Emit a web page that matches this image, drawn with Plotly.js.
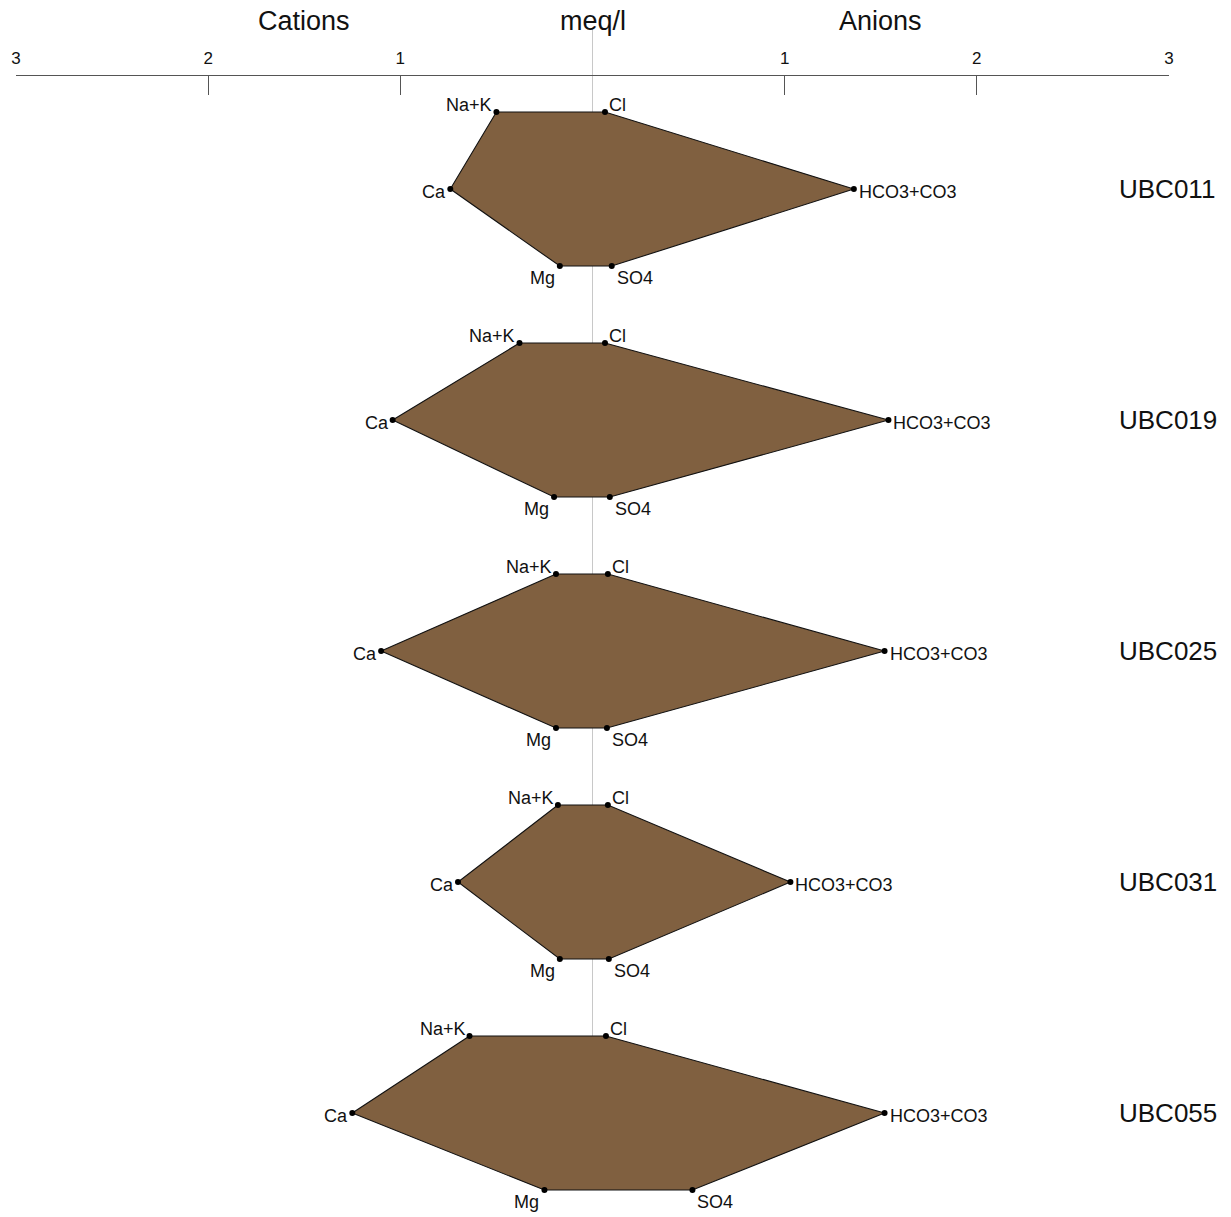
<!DOCTYPE html>
<html>
<head>
<meta charset="utf-8">
<script src="https://cdn.plot.ly/plotly-3.0.1.min.js"></script>
<style>
  html, body { margin: 0; padding: 0; background: #ffffff; }
  #chart { width: 1231px; height: 1217px; }
</style>
</head>
<body>
<div id="chart"></div>
<script>
// Stiff diagram: ion concentrations in meq/l per sample
const samples = ['UBC011', 'UBC019', 'UBC025', 'UBC031', 'UBC055'];

// Cations (plotted to the left)
const naK = [0.50, 0.38, 0.19, 0.18, 0.64];
const ca  = [0.74, 1.04, 1.10, 0.70, 1.25];
const mg  = [0.17, 0.20, 0.19, 0.17, 0.25];

// Anions (plotted to the right)
const cl   = [0.065, 0.065, 0.08, 0.08, 0.07];
const hco3 = [1.36, 1.54, 1.52, 1.03, 1.52];
const so4  = [0.10, 0.09, 0.075, 0.085, 0.52];

const ionLabels = ['Na+K', 'Cl', 'HCO3+CO3', 'SO4', 'Mg', 'Ca'];
const scaleTicks = [-3, -2, -1, 1, 2, 3];
const scaleTickText = ['3', '2', '1', '1', '2', '3'];

const FONT = 'Liberation Sans, Arial, Helvetica, sans-serif';
const FILL = 'rgb(128,96,64)';

// label placement around each vertex: anchor + pixel offsets
const labelPlacement = [
  { xanchor: 'right', xshift: -3, yshift: 7 },   // Na+K
  { xanchor: 'left',  xshift: 3,  yshift: 7 },   // Cl
  { xanchor: 'left',  xshift: 4,  yshift: -3 },  // HCO3+CO3
  { xanchor: 'left',  xshift: 4,  yshift: -12 }, // SO4
  { xanchor: 'right', xshift: -4, yshift: -12 }, // Mg
  { xanchor: 'right', xshift: -3, yshift: -3 }   // Ca
];

const traces = [];
const annotations = [];

samples.forEach((name, i) => {
  const top = 3 * i, mid = 3 * i + 1, bot = 3 * i + 2;
  const xs = [-naK[i], cl[i], hco3[i], so4[i], -mg[i], -ca[i]];
  const ys = [top, top, mid, bot, bot, mid];

  // filled polygon
  traces.push({
    type: 'scatter', mode: 'lines',
    x: xs.concat([xs[0]]), y: ys.concat([ys[0]]),
    fill: 'toself', fillcolor: FILL,
    line: { color: '#111111', width: 1.1 },
    hoverinfo: 'skip', showlegend: false
  });

  // vertices
  traces.push({
    type: 'scatter', mode: 'markers',
    x: xs, y: ys,
    marker: { color: '#000000', size: 6 },
    cliponaxis: false,
    hoverinfo: 'skip', showlegend: false
  });

  // ion labels
  xs.forEach((xv, j) => {
    const p = labelPlacement[j];
    annotations.push({
      x: xv, y: ys[j], xref: 'x', yref: 'y',
      text: ionLabels[j], showarrow: false,
      xanchor: p.xanchor, yanchor: 'middle',
      xshift: p.xshift, yshift: p.yshift, borderpad: 0,
      font: { family: FONT, size: 18, color: '#111111' }
    });
  });

  annotations.push({
    x: 2.73, y: mid, xref: 'x', yref: 'y',
    text: name, showarrow: false, xanchor: 'left', yanchor: 'middle',
    font: { family: FONT, size: 26, color: '#111111' }
  });
});

// header titles
[['Cations', -1.5], ['meq/l', 0], ['Anions', 1.5]].forEach(([t, xv]) => {
  annotations.push({
    x: xv, y: 1 - 21 / 1217, xref: 'x', yref: 'paper',
    text: t, showarrow: false, xanchor: 'center', yanchor: 'middle',
    font: { family: FONT, size: 27, color: '#111111' }
  });
});

const layout = {
  width: 1231, height: 1217,
  margin: { l: 0, r: 0, t: 0, b: 0 },
  paper_bgcolor: '#ffffff', plot_bgcolor: 'rgba(0,0,0,0)',
  showlegend: false,
  xaxis: {
    domain: [16 / 1231, 1169 / 1231],
    range: [-3, 3],
    side: 'top', anchor: 'free', position: 1 - 75 / 1217,
    showline: true, linecolor: '#555555', linewidth: 1.2,
    ticks: 'inside', ticklen: 19, tickcolor: '#555555', tickwidth: 1.2,
    tickvals: scaleTicks, ticktext: scaleTickText,
    ticklabelstandoff: 4,
    tickfont: { family: FONT, size: 17, color: '#111111' },
    showgrid: false, zeroline: false, fixedrange: true
  },
  yaxis: {
    domain: [0, 1],
    range: [14.35, -1.455],
    visible: false, showgrid: false, zeroline: false, fixedrange: true
  },
  shapes: [{
    type: 'line', layer: 'below', xref: 'x', yref: 'y',
    x0: 0, x1: 0, y0: -1.1, y1: 12,
    line: { color: '#c8c8c8', width: 1 }
  }],
  annotations: annotations
};

Plotly.newPlot('chart', traces, layout, { staticPlot: true, displayModeBar: false });
</script>
</body>
</html>
